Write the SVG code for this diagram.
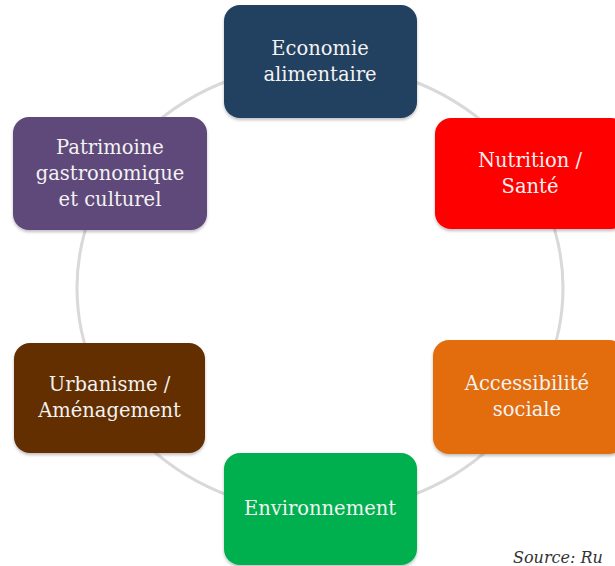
<svg xmlns="http://www.w3.org/2000/svg" width="615" height="566" viewBox="0 0 615 566">
<defs>
<style>
.box{stroke:none;filter:url(#sh);}
.lbl{font-family:"DejaVu Serif","Liberation Serif",serif;font-size:19.5px;fill:#f2f2f2;text-anchor:middle;}
.ring{fill:none;stroke:#d9d9d9;stroke-width:3;}
.src{font-family:"DejaVu Serif","Liberation Serif",serif;font-style:italic;font-size:16px;fill:#333;}
</style>
<filter id="sh" x="-10%" y="-10%" width="120%" height="125%">
<feDropShadow dx="0" dy="2" stdDeviation="1.5" flood-color="#000" flood-opacity="0.25"/>
</filter>
</defs>
<rect width="615" height="566" fill="#fff"/>
<g id="connectors">
<ellipse class="ring" cx="320" cy="288" rx="243" ry="224"/>
</g>
<g id="economie">
<rect class="box" x="224" y="5" width="193" height="113" rx="16" fill="#243f60"/>
<text class="lbl" x="320" y="55">Economie</text>
<text class="lbl" x="320" y="81">alimentaire</text>
</g>
<g id="nutrition">
<rect class="box" x="435" y="118" width="192" height="111" rx="16" fill="#ff0000"/>
<text class="lbl" x="530" y="167">Nutrition /</text>
<text class="lbl" x="530" y="193">Santé</text>
</g>
<g id="patrimoine">
<rect class="box" x="13" y="117" width="194" height="113" rx="16" fill="#5f497a"/>
<text class="lbl" x="110" y="154">Patrimoine</text>
<text class="lbl" x="110" y="180">gastronomique</text>
<text class="lbl" x="110" y="206">et culturel</text>
</g>
<g id="urbanisme">
<rect class="box" x="14" y="343" width="191" height="110" rx="16" fill="#632f06"/>
<text class="lbl" x="109.5" y="391">Urbanisme /</text>
<text class="lbl" x="109.5" y="417">Aménagement</text>
</g>
<g id="accessibilite">
<rect class="box" x="433" y="340" width="192" height="114" rx="16" fill="#e36c09"/>
<text class="lbl" x="527" y="390">Accessibilité</text>
<text class="lbl" x="527" y="416">sociale</text>
</g>
<g id="environnement">
<rect class="box" x="224" y="453" width="193" height="112" rx="16" fill="#00b050"/>
<text class="lbl" x="320" y="515">Environnement</text>
</g>
<text class="src" x="513" y="563">Source: Ru</text>
</svg>
